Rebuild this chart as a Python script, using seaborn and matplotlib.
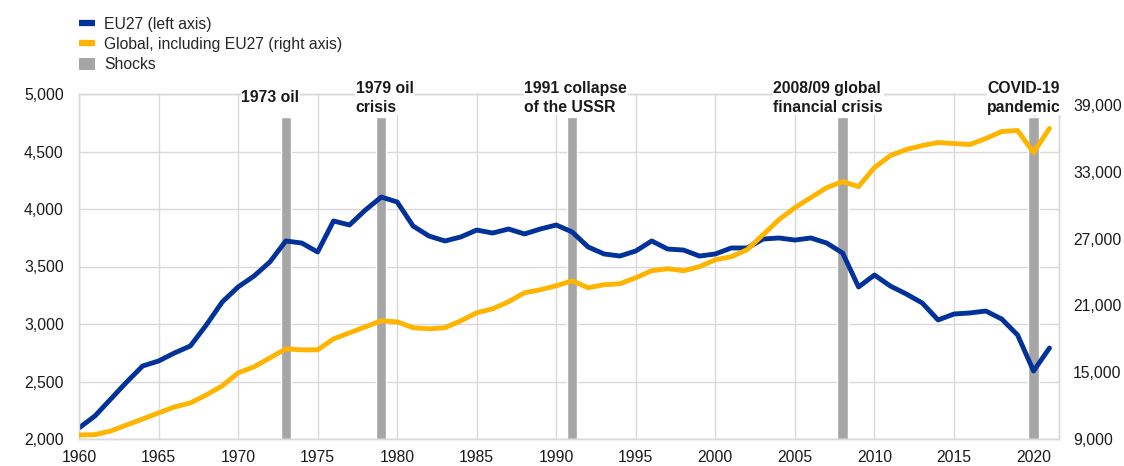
import numpy as np
import pandas as pd
from matplotlib import pyplot as plt
from matplotlib.lines import Line2D
from matplotlib.patches import Patch
import seaborn as sb

years = list(range(1960, 2022))

# EU27, left axis
eu27 = [2096, 2200, 2348, 2496, 2635, 2678, 2748, 2809, 2991, 3191,
        3322, 3417, 3540, 3722, 3704, 3626, 3896, 3861, 3991, 4104,
        4061, 3852, 3765, 3722, 3757, 3817, 3791, 3826, 3783, 3826,
        3861, 3800, 3670, 3609, 3591, 3635, 3722, 3652, 3643, 3591,
        3609, 3661, 3661, 3739, 3748, 3730, 3748, 3704, 3617, 3322,
        3426, 3330, 3261, 3183, 3035, 3087, 3096, 3113, 3043, 2904,
        2591, 2791]

# Global incl. EU27, right axis
world = [9360, 9390, 9720, 10260, 10800, 11340, 11880, 12240, 12960, 13770,
         14940, 15480, 16290, 17100, 17010, 17010, 18000, 18540, 19080, 19620,
         19530, 19000, 18900, 19000, 19620, 20340, 20700, 21330, 22140, 22410,
         22770, 23220, 22590, 22860, 22950, 23490, 24120, 24300, 24120, 24480,
         25110, 25380, 26010, 27360, 28710, 29790, 30690, 31590, 32130, 31680,
         33390, 34470, 35010, 35370, 35640, 35550, 35460, 36000, 36630, 36720,
         34740, 36900]

shock_years = [1973, 1979, 1991, 2008, 2020]
shock_height = 4800
shock_labels = ["1973 oil", "1979 oil\ncrisis", "1991 collapse\nof the USSR",
                "2008/09 global\nfinancial crisis", "COVID-19\npandemic"]
label_x = [1970.2, 1977.4, 1988.0, 2003.65, 2017.1]

legend_labels = ["EU27 (left axis)", "Global, including EU27 (right axis)", "Shocks"]

BLUE = "#003299"
YELLOW = "#FFB400"
GREY = "#A6A6A6"
GRID = "#D9D9D9"
FS = 11.3

sb.set_theme(style="white")
plt.rcParams["font.family"] = ["Liberation Sans", "DejaVu Sans"]
plt.rcParams["font.size"] = FS

df = pd.DataFrame({"year": years, "eu27": eu27, "world": world})
shocks = pd.DataFrame({"year": shock_years, "h": [shock_height] * len(shock_years)})

fig = plt.figure(figsize=(11.24, 4.66), dpi=100)
ax = fig.add_axes([79 / 1124, 1 - 439 / 466, (1059 - 79) / 1124, (439 - 94) / 466])

ax.bar(shocks["year"], shocks["h"] - 2000, bottom=2000, width=0.65, color=GREY, zorder=2)
sb.lineplot(data=df, x="year", y="eu27", ax=ax, color=BLUE, linewidth=3.5, zorder=3)

ax.set_xlim(1960, 2021.6)
ax.set_ylim(2000, 5000)
ax.set_xticks(range(1960, 2021, 5))
ax.set_yticks(range(2000, 5001, 500))
ax.set_yticklabels([f"{v:,}" for v in range(2000, 5001, 500)])
ax.grid(True, color=GRID, linewidth=1, zorder=0)
ax.set_axisbelow(True)
ax.set_xlabel("")
ax.set_ylabel("")
for s in ax.spines.values():
    s.set_color(GRID)
    s.set_linewidth(1)
ax.tick_params(axis="both", length=0, labelsize=FS, colors="#1a1a1a")
ax.tick_params(axis="y", pad=11)
ax.tick_params(axis="x", pad=8)

ax2 = ax.twinx()
sb.lineplot(data=df, x="year", y="world", ax=ax2, color=YELLOW, linewidth=3.5, zorder=3)
ax2.set_ylim(9000, 40000)
ax2.set_yticks(range(9000, 39001, 6000))
ax2.set_yticklabels([f"{v:,}" for v in range(9000, 39001, 6000)])
ax2.set_ylabel("")
ax2.grid(False)
for s in ax2.spines.values():
    s.set_color(GRID)
    s.set_linewidth(1)
ax2.tick_params(axis="y", length=0, labelsize=FS, colors="#1a1a1a", pad=10)

for x, t in zip(label_x, shock_labels):
    ax2.text(x, 39650, t, ha="left", va="center", fontsize=FS, fontweight="bold",
             linespacing=1.27, color="#1a1a1a", zorder=5,
             bbox=dict(facecolor="white", edgecolor="none", pad=0.5))

handles = [Line2D([], [], color=BLUE, linewidth=4.5, solid_capstyle="butt"),
           Line2D([], [], color=YELLOW, linewidth=4.5, solid_capstyle="butt"),
           Patch(facecolor=GREY, edgecolor="none")]
fig.legend(handles, legend_labels, loc="upper left", bbox_to_anchor=(79 / 1124, 1 - 17 / 466),
           frameon=False, borderaxespad=0, borderpad=0, handlelength=1.0,
           handleheight=0.85, handletextpad=0.62, labelspacing=0.33, fontsize=FS)

fig.savefig("out.png", dpi=100)
